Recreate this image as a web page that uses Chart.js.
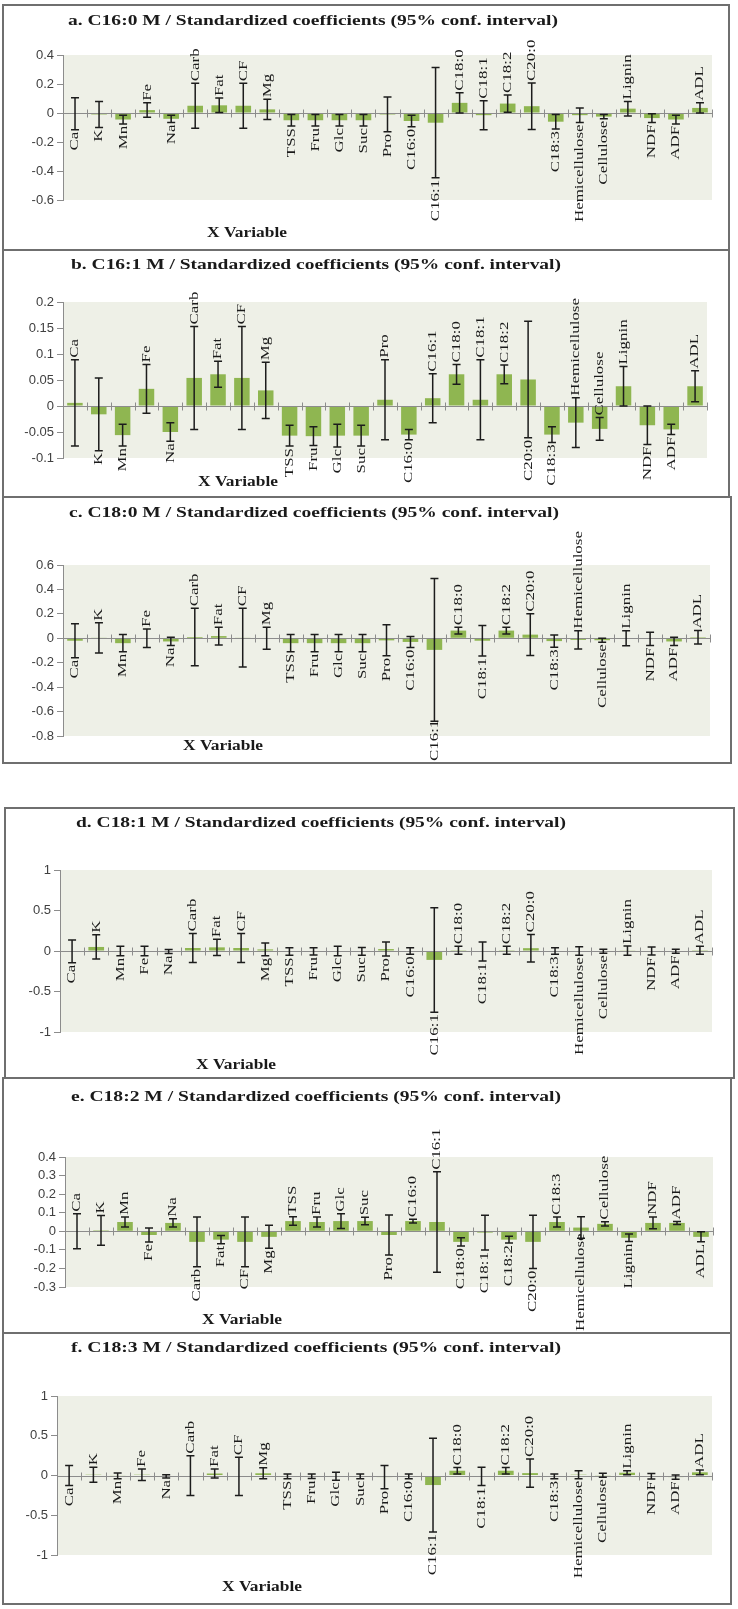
<!DOCTYPE html>
<html><head><meta charset="utf-8">
<script src="https://cdn.jsdelivr.net/npm/chart.js@4.4.1/dist/chart.umd.min.js"></script>
<style>
html,body{margin:0;padding:0;background:#fff;}
body{width:738px;height:1609px;position:relative;overflow:hidden;}
canvas{position:absolute;}
.frame{position:absolute;border:2px solid #6f6f6f;box-sizing:border-box;pointer-events:none;}
</style></head><body>
<script>
// ---------- DATA ----------
const categories = ['Ca','K','Mn','Fe','Na','Carb','Fat','CF','Mg','TSS','Fru','Glc','Suc','Pro','C16:0','C16:1','C18:0','C18:1','C18:2','C20:0','C18:3','Hemicellulose','Cellulose','Lignin','NDF','ADF','ADL'];

// a. C16:0 M
const aValues = [-0.005,-0.01,-0.045,0.02,-0.04, 0.05,0.053,0.05,0.025,-0.05, -0.05,-0.05,-0.05,-0.01,-0.055, -0.067,0.07,-0.015,0.065,0.047, -0.06,-0.015,-0.025,0.03,-0.035, -0.045,0.035];
const aErrors = [0.11,0.09,0.03,0.05,0.025, 0.155,0.05,0.155,0.07,0.04, 0.04,0.04,0.04,0.12,0.04, 0.38,0.07,0.1,0.06,0.16, 0.05,0.05,0.015,0.05,0.03, 0.03,0.035];
const aTicks = [0.4,0.2,0,-0.2,-0.4,-0.6];

// b. C16:1 M
const bValues = [0.006,-0.016,-0.056,0.033,-0.05, 0.054,0.061,0.054,0.03,-0.057, -0.058,-0.057,-0.057,0.012,-0.055, 0.015,0.061,0.012,0.061,0.051, -0.055,-0.032,-0.044,0.038,-0.037, -0.045,0.038];
const bErrors = [0.083,0.07,0.021,0.047,0.018, 0.099,0.025,0.099,0.054,0.02, 0.018,0.022,0.02,0.077,0.01, 0.047,0.019,0.077,0.018,0.112, 0.015,0.048,0.022,0.038,0.037, 0.01,0.03];
const bTicks = [0.2,0.15,0.1,0.05,0,-0.05,-0.1];

// c. C18:0 M
const cValues = [-0.02,0.003,-0.04,0,-0.026, 0.01,0.018,0.005,0,-0.04, -0.04,-0.04,-0.04,-0.017,-0.03, -0.095,0.063,-0.02,0.063,0.03, -0.023,-0.013,-0.016,0,-0.005, -0.026,0.008];
const cErrors = [0.14,0.124,0.07,0.076,0.034, 0.235,0.073,0.24,0.09,0.07, 0.07,0.07,0.07,0.127,0.045, 0.585,0.027,0.125,0.027,0.17, 0.05,0.075,0.016,0.062,0.055, 0.034,0.055];
const cTicks = [0.6,0.4,0.2,0,-0.2,-0.4,-0.6,-0.8];

// d. C18:1 M
const dValues = [-0.004,0.05,0,0,-0.005, 0.037,0.045,0.037,0.02,-0.006, -0.005,0,-0.005,0.024,0, -0.11,0.01,-0.006,0.01,0.035, 0,0,-0.004,0.004,0, -0.004,0.01];
const dErrors = [0.14,0.15,0.06,0.06,0.025, 0.18,0.1,0.18,0.08,0.047, 0.045,0.06,0.047,0.086,0.04, 0.645,0.05,0.117,0.05,0.17, 0.04,0.053,0.025,0.057,0.05, 0.025,0.05];
const dTicks = [1,0.5,0,-0.5,-1];

// e. C18:2 M
const eValues = [0,0.005,0.05,-0.02,0.045, -0.057,-0.045,-0.057,-0.03,0.055, 0.05,0.055,0.055,-0.02,0.055, 0.05,-0.057,-0.007,-0.045,-0.057, 0.05,0.02,0.04,-0.035,0.045, 0.045,-0.03];
const eErrors = [0.094,0.08,0.027,0.038,0.022, 0.134,0.022,0.134,0.062,0.023, 0.027,0.04,0.02,0.108,0.01, 0.27,0.022,0.094,0.018,0.144, 0.027,0.058,0.012,0.02,0.032, 0.008,0.027];
const eTicks = [0.4,0.3,0.2,0.1,0,-0.1,-0.2,-0.3];

// f. C18:3 M
const fValues = [0,0.01,-0.005,0.01,-0.01, 0,0.025,-0.01,0.028,-0.01, -0.01,-0.01,-0.01,-0.02,-0.01, -0.12,0.06,-0.01,0.06,0.03, -0.01,0.01,0.004,0.035,-0.01, -0.02,0.04];
const fErrors = [0.125,0.094,0.035,0.073,0.02, 0.25,0.058,0.24,0.068,0.03, 0.028,0.05,0.03,0.146,0.03, 0.59,0.042,0.115,0.042,0.177, 0.03,0.05,0.025,0.025,0.035, 0.027,0.03];
const fTicks = [1,0.5,0,-0.5,-1];

const titleSuffix = ' M / Standardized coefficients (95% conf. interval)';
const xAxisTitle = 'X Variable';

// ---------- LAYOUT / STYLE ----------
const panels = [
  {title:'a. C16:0'+titleSuffix, values:aValues, errors:aErrors, ticks:aTicks, sides:'dddud uuuud ddddd duuuu dddud du',
   box:[2,4,728,247], plot:[63,55,712,200], titleAt:[313,21], xTitleAt:[247,233]},
  {title:'b. C16:1'+titleSuffix, values:bValues, errors:bErrors, ticks:bTicks, sides:'uddud uuuud dddud uuuud duuud du',
   box:[2,249,728,249], plot:[63,302,707,458], titleAt:[316,265], xTitleAt:[238,482]},
  {title:'c. C18:0'+titleSuffix, values:cValues, errors:cErrors, ticks:cTicks, sides:'dudud uuuud ddddd duduu dudud du',
   box:[2,496,730,268], plot:[63,565,710,736], titleAt:[314,513], xTitleAt:[223,746]},
  {title:'d. C18:1'+titleSuffix, values:dValues, errors:dErrors, ticks:dTicks, sides:'duddd uuudd ddddd duduu dddud du',
   box:[4,807,731,272], plot:[60,870,712,1032], titleAt:[321,823], xTitleAt:[236,1065]},
  {title:'e. C18:2'+titleSuffix, values:eValues, errors:eErrors, ticks:eTicks, sides:'uuudu ddddu uuudu udddd ududu ud',
   box:[2,1077,730,257], plot:[65,1157,713,1287], titleAt:[316,1097], xTitleAt:[242,1320]},
  {title:'f. C18:3'+titleSuffix, values:fValues, errors:fErrors, ticks:fTicks, sides:'dudud uuuud ddddd duduu dddud du',
   box:[2,1332,730,273], plot:[57,1396,712,1555], titleAt:[316,1348], xTitleAt:[262,1587]}
];

const BAR_COLOR = '#8fb651';
const PLOT_BG = '#eef0e7';
const AXIS_COLOR = '#8c8c8c';
const ERR_COLOR = '#1c1c1c';
const SERIF = '"Liberation Serif", "Times New Roman", Times, serif';
const LABEL_FONT = '13px ' + SERIF;
const LABEL_STRETCH = 1.3;
const LABEL_GAP = 2;
const TITLE_FONT = 'bold 15px ' + SERIF;
const TITLE_WIDTH = 490;
const XTITLE_WIDTH = 80;

function stretchedText(ctx, text, x, y, width){
  ctx.save();
  const w = ctx.measureText(text).width;
  ctx.translate(x, y);
  ctx.scale(width / w, 1);
  ctx.textAlign = 'center';
  ctx.textBaseline = 'middle';
  ctx.fillText(text, 0, 0);
  ctx.restore();
}

function vText(ctx, text, x, y, align){
  ctx.save();
  ctx.translate(x, y);
  ctx.rotate(-Math.PI/2);
  ctx.scale(LABEL_STRETCH, 1);
  ctx.textAlign = align;
  ctx.textBaseline = 'middle';
  ctx.fillText(text, 0, 0);
  ctx.restore();
}

function panelPlugin(p){
  const sides = p.sides.replace(/\s/g,'');
  const [bx, by] = p.box;
  return {
    id: 'panelDecor',
    beforeDraw(chart){
      const {ctx, chartArea:a} = chart;
      ctx.save();
      ctx.fillStyle = '#ffffff';
      ctx.fillRect(0, 0, chart.width, chart.height);
      ctx.fillStyle = PLOT_BG;
      ctx.fillRect(a.left, a.top, a.right - a.left, a.bottom - a.top);
      ctx.restore();
    },
    afterDatasetsDraw(chart){
      const {ctx, chartArea:a, scales:{x, y}} = chart;
      const y0 = Math.round(y.getPixelForValue(0)) + 0.5;
      ctx.save();
      ctx.strokeStyle = AXIS_COLOR;
      ctx.lineWidth = 1;
      ctx.beginPath();
      ctx.moveTo(a.left, y0); ctx.lineTo(a.right, y0);
      const n = categories.length;
      const step = (a.right - a.left) / n;
      for (let i = 0; i <= n; i++){
        const xx = Math.round(a.left + i*step) + 0.5;
        ctx.moveTo(xx, y0 - 4); ctx.lineTo(xx, y0 + 4);
      }
      ctx.stroke();
      ctx.strokeStyle = ERR_COLOR;
      ctx.lineWidth = 1.5;
      p.values.forEach((v, i) => {
        const xc = x.getPixelForValue(i);
        const yt = y.getPixelForValue(v + p.errors[i]);
        const yb = y.getPixelForValue(v - p.errors[i]);
        ctx.beginPath();
        ctx.moveTo(xc, yt); ctx.lineTo(xc, yb);
        ctx.moveTo(xc - 4, yt); ctx.lineTo(xc + 4, yt);
        ctx.moveTo(xc - 4, yb); ctx.lineTo(xc + 4, yb);
        ctx.stroke();
      });
      ctx.restore();
    },
    afterDraw(chart){
      const {ctx, scales:{x, y}} = chart;
      ctx.save();
      ctx.fillStyle = '#1a1a1a';
      ctx.font = LABEL_FONT;
      categories.forEach((c, i) => {
        const v = p.values[i], e = p.errors[i];
        const xc = x.getPixelForValue(i);
        const len = ctx.measureText(c).width * LABEL_STRETCH;
        if (sides[i] === 'u') {
          const yA = Math.max(y.getPixelForValue(v + e) - LABEL_GAP, len + 3);
          vText(ctx, c, xc, yA, 'left');
        } else {
          const yA = Math.min(y.getPixelForValue(v - e) + LABEL_GAP, chart.height - 3 - len);
          vText(ctx, c, xc, yA, 'right');
        }
      });
      ctx.fillStyle = '#1a1a1a';
      ctx.font = TITLE_FONT;
      stretchedText(ctx, p.title, p.titleAt[0] - bx, p.titleAt[1] - by, TITLE_WIDTH);
      stretchedText(ctx, xAxisTitle, p.xTitleAt[0] - bx, p.xTitleAt[1] - by, XTITLE_WIDTH);
      ctx.restore();
    }
  };
}

function makePanel(p){
  const [bx, by, bw, bh] = p.box;
  const [pl, pt, pr, pb] = p.plot;
  const cv = document.createElement('canvas');
  cv.width = bw; cv.height = bh;
  cv.style.left = bx + 'px'; cv.style.top = by + 'px';
  cv.style.width = bw + 'px'; cv.style.height = bh + 'px';
  document.body.appendChild(cv);
  const fr = document.createElement('div');
  fr.className = 'frame';
  fr.style.left = bx + 'px'; fr.style.top = by + 'px';
  fr.style.width = bw + 'px'; fr.style.height = bh + 'px';
  document.body.appendChild(fr);
  const asc = p.ticks.slice().sort((m, n) => m - n);
  new Chart(cv, {
    type: 'bar',
    data: {labels: categories, datasets: [{data: p.values, backgroundColor: BAR_COLOR, barPercentage: 0.65, categoryPercentage: 1}]},
    options: {
      responsive: false, animation: false, devicePixelRatio: 1,
      layout: {padding: {left: 0, top: pt - by, right: bx + bw - pr, bottom: by + bh - pb}},
      plugins: {legend: {display: false}, title: {display: false}, tooltip: {enabled: false}},
      scales: {
        x: {display: false},
        y: {
          min: asc[0], max: asc[asc.length - 1],
          afterBuildTicks: s => { s.ticks = asc.map(v => ({value: v})); },
          afterFit: s => { s.width = pl - bx; },
          grid: {drawOnChartArea: false, drawTicks: true, tickLength: 6, color: AXIS_COLOR, lineWidth: 1},
          border: {display: true, color: AXIS_COLOR, width: 1},
          ticks: {font: {family: '"Liberation Sans", Arial, sans-serif', size: 13}, color: '#404040', padding: 3,
                  autoSkip: false, maxRotation: 0,
                  callback: v => String(+Number(v).toFixed(3))}
        }
      }
    },
    plugins: [panelPlugin(p)]
  });
}

panels.forEach(makePanel);
</script>
</body></html>
